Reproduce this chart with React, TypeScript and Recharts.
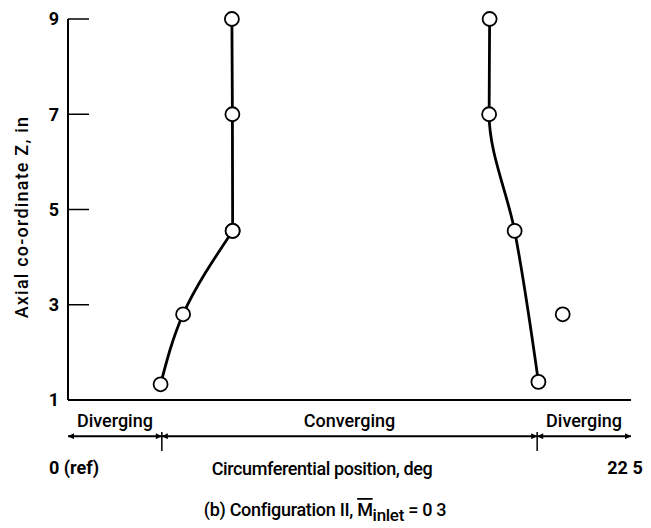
import React from "react";
import {
  ComposedChart,
  Line,
  Scatter,
  XAxis,
  YAxis,
  ReferenceLine,
  Customized,
} from "recharts";

// Axial coordinate Z (in) and circumferential position (deg) for each trace
const Z_LEFT_UPPER = [9, 7, 4.55];
const THETA_LEFT_UPPER = [6.55, 6.57, 6.58];
const Z_LEFT_LOWER = [4.55, 2.8, 1.33];
const THETA_LEFT_LOWER = [6.58, 4.6, 3.7];
const Z_RIGHT = [9, 7, 4.55, 1.38];
const THETA_RIGHT = [16.85, 16.83, 17.85, 18.8];
const Z_EXTRA = [2.8];
const THETA_EXTRA = [19.77];

const Y_TICKS = [1, 3, 5, 7, 9];
const X_TICKS = [0, 22.5];
const X_TICK_LABELS = ["0 (ref)", "22 5"];

const REGION_BOUNDS = [0, 3.75, 18.75, 22.5];
const REGION_NAMES = ["Diverging", "Converging", "Diverging"];

// annotation row below the axis, in axis units
const ARROW_Z = 0.24;
const MARK_TOP = 0.33;
const MARK_BOTTOM = -0.07;

const FONT = "Roboto, 'Liberation Sans', sans-serif";

const toPoints = (thetas: number[], zs: number[]) =>
  thetas.map((theta, i) => ({ theta, z: zs[i] }));

const leftUpper = toPoints(THETA_LEFT_UPPER, Z_LEFT_UPPER);
const leftLower = toPoints(THETA_LEFT_LOWER, Z_LEFT_LOWER);
const rightData = toPoints(THETA_RIGHT, Z_RIGHT);
const extraData = toPoints(THETA_EXTRA, Z_EXTRA);

const dotStyle = { r: 7, fill: "#fff", stroke: "#000", strokeWidth: 1.8 };

const ArrowDefs = () => (
  <defs>
    <marker
      id="arrowHead"
      viewBox="0 0 10 10"
      refX="10"
      refY="5"
      markerWidth="10"
      markerHeight="6"
      markerUnits="userSpaceOnUse"
      orient="auto-start-reverse"
    >
      <path d="M0,0 L10,5 L0,10 z" fill="#000" />
    </marker>
  </defs>
);

const Texts = () => (
  <g fill="#000" fontFamily={FONT} fontWeight={500}>
    <text
      transform="translate(21, 217) rotate(-90)"
      textAnchor="middle"
      dominantBaseline="central"
      fontSize={18}
      letterSpacing={1.2}
    >
      Axial co-ordinate Z, in
    </text>
    <text x={322} y={475} textAnchor="middle" fontSize={18} letterSpacing={-0.4}>
      Circumferential position, deg
    </text>
    <text x={325} y={516} textAnchor="middle" fontSize={18} letterSpacing={-0.3}>
      (b) Configuration II,{" "}
      <tspan textDecoration="overline">M</tspan>
      <tspan dy={5} fontSize={17}>inlet</tspan>
      <tspan dy={-5}> = 0 3</tspan>
    </text>
  </g>
);

const XTick = (props: any) => {
  const { x, y, payload } = props;
  const idx = X_TICKS.indexOf(payload.value);
  return (
    <text
      x={x + (idx === 0 ? 6 : -6)}
      y={y + 66}
      textAnchor="middle"
      fill="#000"
      fontFamily={FONT}
      fontWeight={700}
      fontSize={18}
    >
      {X_TICK_LABELS[idx]}
    </text>
  );
};

const ArrowSegment = (props: any) => (
  <line
    x1={props.x1}
    y1={props.y1}
    x2={props.x2}
    y2={props.y2}
    stroke="#000"
    strokeWidth={2}
    markerStart="url(#arrowHead)"
    markerEnd="url(#arrowHead)"
  />
);

export default function App() {
  return (
    <div style={{ position: "absolute", left: 0, top: 0, background: "#fff" }}>
      <ComposedChart
        width={651}
        height={528}
        margin={{ top: 19, right: 20, bottom: 48, left: 9 }}
      >
        <Customized component={<ArrowDefs />} />
        <XAxis
          type="number"
          dataKey="theta"
          domain={[0, 22.5]}
          ticks={X_TICKS}
          height={80}
          tickLine={false}
          axisLine={{ stroke: "#000", strokeWidth: 2 }}
          tick={<XTick />}
        />
        <YAxis
          type="number"
          dataKey="z"
          domain={[1, 9]}
          ticks={Y_TICKS}
          width={59}
          tickSize={-21}
          tickMargin={30}
          axisLine={{ stroke: "#000", strokeWidth: 2 }}
          tickLine={{ stroke: "#000", strokeWidth: 1.5 }}
          tick={{ fill: "#000", fontSize: 18, fontWeight: 700, fontFamily: FONT }}
        />
        {REGION_NAMES.map((name, i) => (
          <ReferenceLine
            key={`region-${i}`}
            segment={[
              { x: REGION_BOUNDS[i], y: ARROW_Z },
              { x: REGION_BOUNDS[i + 1], y: ARROW_Z },
            ]}
            ifOverflow="visible"
            shape={<ArrowSegment />}
            label={{
              value: name,
              position: "top",
              offset: 9,
              fill: "#000",
              fontSize: 18,
              fontWeight: 500,
              fontFamily: FONT,
            }}
          />
        ))}
        {REGION_BOUNDS.slice(1, -1).map((b) => (
          <ReferenceLine
            key={`mark-${b}`}
            segment={[
              { x: b, y: MARK_TOP },
              { x: b, y: MARK_BOTTOM },
            ]}
            ifOverflow="visible"
            stroke="#000"
            strokeWidth={1.5}
          />
        ))}
        <Line
          data={leftUpper}
          dataKey="z"
          type="linear"
          stroke="#000"
          strokeWidth={2.8}
          dot={dotStyle}
          activeDot={false}
          isAnimationActive={false}
        />
        <Line
          data={leftLower}
          dataKey="z"
          type="monotoneY"
          stroke="#000"
          strokeWidth={2.8}
          dot={dotStyle}
          activeDot={false}
          isAnimationActive={false}
        />
        <Line
          data={rightData}
          dataKey="z"
          type="monotoneY"
          stroke="#000"
          strokeWidth={2.8}
          dot={dotStyle}
          activeDot={false}
          isAnimationActive={false}
        />
        <Scatter
          data={extraData}
          dataKey="z"
          shape={(p: any) => <circle cx={p.cx} cy={p.cy} {...dotStyle} />}
          isAnimationActive={false}
        />
        <Customized component={<Texts />} />
      </ComposedChart>
    </div>
  );
}
